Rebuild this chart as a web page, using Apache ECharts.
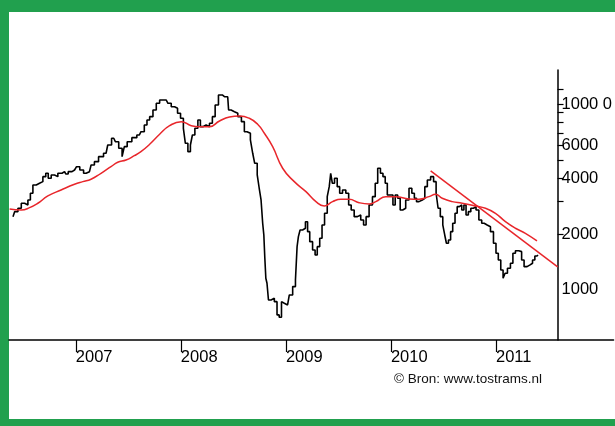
<!DOCTYPE html>
<html>
<head>
<meta charset="utf-8">
<script src="https://cdn.jsdelivr.net/npm/echarts@6/dist/echarts.min.js"></script>
<style>
    html, body { margin: 0; padding: 0; background: #fff; }
    #wrap { position: relative; width: 615px; height: 426px; overflow: hidden; background: #fff; }
    .band { position: absolute; background: #21a04e; }
    #chart { position: absolute; left: 0; top: 0; width: 615px; height: 426px; }
</style>
</head>
<body>
<div id="wrap">
    <div class="band" style="left:0;top:0;width:615px;height:12px"></div>
    <div class="band" style="left:0;top:0;width:9px;height:426px"></div>
    <div class="band" style="left:0;top:419px;width:615px;height:7px"></div>
    <div id="chart"></div>
</div>
<script>
    // koers (weekly), decimal years
    var priceDates = [
        2006.402, 2006.433, 2006.465, 2006.497, 2006.528, 2006.560, 2006.575, 2006.608, 2006.639, 2006.670,
        2006.703, 2006.725, 2006.750, 2006.782, 2006.813, 2006.845, 2006.893, 2006.915, 2006.940, 2006.988,
        2007.026, 2007.050, 2007.098, 2007.130, 2007.161, 2007.193, 2007.240, 2007.288, 2007.320, 2007.361,
        2007.392, 2007.425, 2007.456, 2007.468, 2007.510, 2007.557, 2007.605, 2007.636, 2007.668, 2007.687,
        2007.719, 2007.750, 2007.782, 2007.814, 2007.861, 2007.893, 2007.924, 2007.956, 2007.981, 2008.013,
        2008.035, 2008.051, 2008.083, 2008.099, 2008.121, 2008.146, 2008.178, 2008.194, 2008.225, 2008.256,
        2008.289, 2008.311, 2008.342, 2008.374, 2008.415, 2008.446, 2008.463, 2008.494, 2008.526, 2008.558,
        2008.595, 2008.614, 2008.646, 2008.678, 2008.690, 2008.716, 2008.738, 2008.754, 2008.773, 2008.785,
        2008.795, 2008.804, 2008.814, 2008.826, 2008.842, 2008.874, 2008.906, 2008.925, 2008.947, 2008.969,
        2008.985, 2009.016, 2009.049, 2009.080, 2009.102, 2009.111, 2009.127, 2009.143, 2009.175, 2009.197,
        2009.216, 2009.238, 2009.270, 2009.286, 2009.311, 2009.333, 2009.355, 2009.381, 2009.406, 2009.419,
        2009.434, 2009.450, 2009.476, 2009.501, 2009.523, 2009.555, 2009.586, 2009.609, 2009.634, 2009.666,
        2009.697, 2009.728, 2009.751, 2009.776, 2009.808, 2009.840, 2009.861, 2009.887, 2009.913, 2009.935,
        2009.956, 2009.975, 2010.008, 2010.030, 2010.051, 2010.077, 2010.099, 2010.125, 2010.156, 2010.188,
        2010.210, 2010.236, 2010.251, 2010.283, 2010.314, 2010.331, 2010.362, 2010.393, 2010.419, 2010.441,
        2010.457, 2010.483, 2010.504, 2010.520, 2010.536, 2010.559, 2010.577, 2010.599, 2010.621, 2010.640,
        2010.663, 2010.685, 2010.704, 2010.726, 2010.748, 2010.773, 2010.799, 2010.821, 2010.853, 2010.875,
        2010.900, 2010.932, 2010.963, 2010.989, 2011.011, 2011.033, 2011.058, 2011.077, 2011.096, 2011.122,
        2011.153, 2011.169, 2011.201, 2011.233, 2011.255, 2011.280, 2011.312, 2011.337, 2011.359, 2011.381,
        2011.400
    ];
    var priceValues = [
        2478, 2636, 2749, 2925, 2864, 3046, 3310, 3668, 3747, 3822,
        4066, 4240, 3986, 4152, 4066, 4240, 4325, 4204, 4325, 4417,
        4600, 4417, 4240, 4325, 4699, 4895, 5208, 5432, 6018, 6540,
        6270, 5778, 5208, 5894, 6270, 6589, 6812, 7096, 7709, 8204,
        8546, 9283, 10086, 10506, 10506, 10086, 9670, 9480, 8912, 8376,
        7402, 6146, 5540, 6018, 6812, 7402, 8204, 7550, 7709, 7550,
        7874, 8546, 9876, 11176, 10944, 10944, 9283, 9090, 8912, 8546,
        8032, 7096, 6956, 6404, 5432, 4798, 4152, 3522, 3046, 2284,
        1975, 1480, 1156, 1086, 883, 902, 865, 734, 713, 865,
        848, 830, 940, 1042, 1132, 1709, 1934, 2102, 2146, 2328,
        2058, 1818, 1641, 1542, 1709, 1896, 2236, 2584, 3174, 3592,
        4240, 3747, 3986, 3592, 3310, 3448, 3310, 2864, 2692, 2478,
        2530, 2378, 2236, 2478, 2864, 3174, 3747, 4512, 4240, 4066,
        3747, 3242, 3242, 2864, 3242, 3112, 2692, 2749, 3046, 3522,
        3310, 3112, 2984, 3046, 3112, 3592, 3902, 4066, 3822, 3310,
        2749, 2478, 2236, 1975, 1783, 1857, 2058, 2284, 2584, 2804,
        2864, 2692, 2864, 2530, 2636, 2749, 2804, 2692, 2378, 2284,
        2236, 2188, 2058, 1783, 1575, 1450, 1281, 1156, 1230, 1308,
        1392, 1575, 1626, 1607, 1450, 1334, 1363, 1392, 1450, 1523,
        1542
    ];

    // voortschrijdend gemiddelde
    var maDates = [
        2006.370, 2006.481, 2006.560, 2006.639, 2006.734, 2006.860, 2006.988, 2007.066, 2007.145, 2007.240,
        2007.335, 2007.399, 2007.478, 2007.557, 2007.620, 2007.703, 2007.798, 2007.893, 2008.004, 2008.099,
        2008.178, 2008.273, 2008.368, 2008.463, 2008.558, 2008.652, 2008.731, 2008.795, 2008.874, 2008.969,
        2009.080, 2009.191, 2009.286, 2009.365, 2009.444, 2009.523, 2009.602, 2009.697, 2009.792, 2009.856,
        2009.951, 2010.046, 2010.172, 2010.267, 2010.362, 2010.425, 2010.488, 2010.583, 2010.678, 2010.805,
        2010.900, 2010.995, 2011.090, 2011.185, 2011.280, 2011.390
    ];
    var maValues = [
        2727, 2692, 2770, 2925, 3202, 3448, 3700, 3822, 3936, 4240,
        4600, 4858, 4998, 5272, 5540, 6072, 6872, 7644, 8032, 7644,
        7550, 7550, 8102, 8512, 8618, 8376, 7778, 6956, 5894, 4512,
        3822, 3376, 2984, 2828, 2984, 3074, 3074, 2946, 2900, 2984,
        3174, 3174, 3084, 3074, 3174, 3270, 3112, 2984, 2925, 2828,
        2749, 2584, 2328, 2146, 2017, 1834
    ];

    // dalende trendlijn
    var trendDates = [2010.378, 2011.587];
    var trendValues = [4364, 1329];

    var yearTicks = [2007, 2008, 2009, 2010, 2011];
    var yTickValues = [2000, 3000, 4000, 5000, 6000, 7000, 8000, 9000, 10000, 12000];
    var yLabelValues = [1000, 2000, 4000, 6000, 10000];

    function zipData(xs, ys) {
        var res = [];
        for (var i = 0; i < xs.length; i++) {
            res.push([xs[i], ys[i]]);
        }
        return res;
    }

    var chart = echarts.init(document.getElementById('chart'));
    var option = {
        animation: false,
        backgroundColor: 'transparent',
        textStyle: { fontFamily: 'Liberation Sans' },
        title: {
            text: '\u00a9 Bron: www.tostrams.nl',
            left: 394,
            top: 372,
            padding: 0,
            textStyle: { fontSize: 13.5, fontWeight: 'normal', color: '#111', fontFamily: 'Liberation Sans' }
        },
        grid: {
            left: 9,
            right: 0,
            top: 70,
            bottom: 86
        },
        xAxis: {
            type: 'value',
            min: 2006.364,
            max: 2012.119,
            splitLine: { show: false },
            axisLine: { lineStyle: { color: '#000', width: 1.5 } },
            axisTick: {
                customValues: yearTicks,
                length: 12,
                lineStyle: { color: '#000', width: 1.2 }
            },
            axisLabel: {
                customValues: yearTicks,
                formatter: function (v) { return Math.round(v) + ''; },
                align: 'left',
                margin: 9,
                fontSize: 16.5,
                color: '#000'
            }
        },
        yAxis: {
            type: 'log',
            logBase: 10,
            min: 538,
            max: 15230,
            position: 'right',
            offset: -56,
            splitLine: { show: false },
            axisLine: { show: true, lineStyle: { color: '#000', width: 1.5 } },
            axisTick: {
                show: true,
                customValues: yTickValues,
                length: 6,
                lineStyle: { color: '#000', width: 1.2 }
            },
            axisLabel: {
                customValues: yLabelValues,
                formatter: function (v) {
                    if (Math.round(v) === 10000) return '1000 0';
                    return Math.round(v) + '';
                },
                margin: 4,
                fontSize: 16.5,
                color: '#000'
            }
        },
        series: [
            {
                name: 'koers',
                type: 'line',
                step: 'middle',
                data: zipData(priceDates, priceValues),
                symbol: 'none',
                lineStyle: { color: '#000', width: 1.6 },
                z: 3
            },
            {
                name: 'gemiddelde',
                type: 'line',
                smooth: true,
                data: zipData(maDates, maValues),
                symbol: 'none',
                lineStyle: { color: '#e8262b', width: 1.5 },
                z: 4
            },
            {
                name: 'trendlijn',
                type: 'line',
                data: zipData(trendDates, trendValues),
                symbol: 'none',
                lineStyle: { color: '#e8262b', width: 1.5 },
                z: 4
            }
        ]
    };
    chart.setOption(option);
</script>
</body>
</html>
